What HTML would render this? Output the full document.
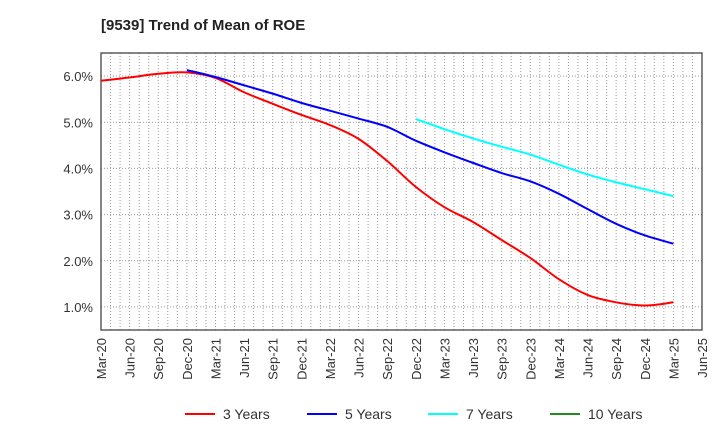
<!DOCTYPE html>
<html><head><meta charset="utf-8"><style>
body{margin:0;background:#fff;font-family:"Liberation Sans",Arial,sans-serif;}
</style></head><body>
<svg id="c" width="720" height="440" xmlns="http://www.w3.org/2000/svg">
<text x="101" y="30" font-size="15" font-weight="bold" fill="#222">[9539]  Trend of Mean of ROE</text>
<g id="grid"></g><g id="axes"></g><g id="series"></g><g id="legend"></g>
</svg>
<script>
const xLabels=["Mar-20","Jun-20","Sep-20","Dec-20","Mar-21","Jun-21","Sep-21","Dec-21","Mar-22","Jun-22","Sep-22","Dec-22","Mar-23","Jun-23","Sep-23","Dec-23","Mar-24","Jun-24","Sep-24","Dec-24","Mar-25","Jun-25"];
const yTicks=[1,2,3,4,5,6];
const s3=[5.9,5.97,6.05,6.08,5.96,5.65,5.4,5.16,4.94,4.64,4.16,3.6,3.16,2.84,2.45,2.06,1.6,1.26,1.1,1.03,1.1];
const s5=[null,null,null,6.13,5.98,5.8,5.62,5.42,5.25,5.08,4.9,4.6,4.35,4.12,3.9,3.72,3.45,3.12,2.8,2.55,2.37];
const s7=[null,null,null,null,null,null,null,null,null,null,null,5.07,4.85,4.65,4.47,4.3,4.08,3.87,3.7,3.55,3.4];
const s10=[];
const names=["3 Years","5 Years","7 Years","10 Years"];
const colors=["#ff0000","#0000ff","#00ffff","#228b22"];
const L=101,R=702,T=53,B=330,ymin=0.5,ymax=6.5,months=63;
const NS="http://www.w3.org/2000/svg";
const X=q=>L+(q*3)/months*(R-L);
const Xm=m=>L+m/months*(R-L);
const Y=v=>B-(v-ymin)/(ymax-ymin)*(B-T);
function mk(t,a,p){const e=document.createElementNS(NS,t);for(const k in a)e.setAttribute(k,a[k]);p.appendChild(e);return e;}
const g=document.getElementById('grid'),ax=document.getElementById('axes'),sg=document.getElementById('series'),lg=document.getElementById('legend');
for(let m=1;m<months;m++){const l=mk('line',{x1:Xm(m),x2:Xm(m),y1:T,y2:B,stroke:'#999','stroke-width':1,'stroke-dasharray':'1,2'},g);

}
yTicks.forEach(v=>{const l=mk('line',{x1:L,x2:R,y1:Y(v),y2:Y(v),stroke:'#999','stroke-width':1,'stroke-dasharray':'1,2'},g);


const t=mk('text',{x:L-8,y:Y(v)+5,'text-anchor':'end','font-size':13,fill:'#333'},ax);t.textContent=v.toFixed(1)+'%';

});
const fr=mk('rect',{x:L,y:T,width:R-L,height:B-T,fill:'none',stroke:'#444','stroke-width':1.3},ax);


xLabels.forEach((s,i)=>{const x=X(i);const t=mk('text',{x:x+5,y:B+8,'text-anchor':'end','font-size':13,fill:'#333',transform:`rotate(-90 ${x+5} ${B+8})`},ax);t.textContent=s;

});
function path(arr){const pts=[];arr.forEach((v,i)=>{if(v!=null)pts.push([X(i),Y(v)]);});if(pts.length<2)return null;
let d=`M${pts[0][0]},${pts[0][1]}`;for(let i=0;i<pts.length-1;i++){const p0=pts[Math.max(0,i-1)],p1=pts[i],p2=pts[i+1],p3=pts[Math.min(pts.length-1,i+2)];
d+=` C${p1[0]+(p2[0]-p0[0])/6},${p1[1]+(p2[1]-p0[1])/6} ${p2[0]-(p3[0]-p1[0])/6},${p2[1]-(p3[1]-p1[1])/6} ${p2[0]},${p2[1]}`;}return d;}
[s3,s5,s7,s10].forEach((arr,k)=>{const d=path(arr);if(!d)return;const p=mk('path',{d:d,fill:'none',stroke:colors[k],'stroke-width':2},sg);

});
const lx=[185,307,428,550];
names.forEach((n,k)=>{const l=mk('line',{x1:lx[k],x2:lx[k]+30,y1:414,y2:414,stroke:colors[k],'stroke-width':2},lg);


const t=mk('text',{x:lx[k]+38,y:419,'font-size':14,fill:'#333'},lg);t.textContent=n;

});
</script>
</body></html>
